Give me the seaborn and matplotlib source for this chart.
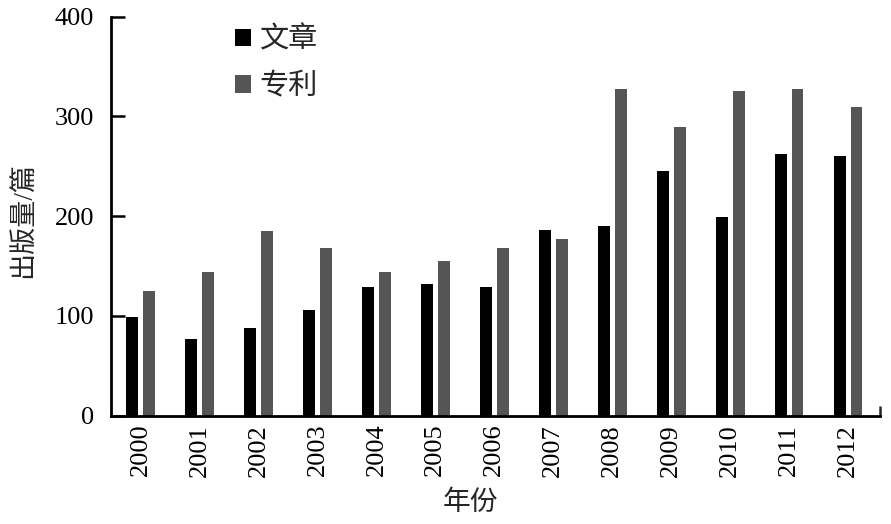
import numpy as np
import pandas as pd
import matplotlib
matplotlib.use("Agg")
import matplotlib.pyplot as plt
import seaborn as sns

years = ["2000", "2001", "2002", "2003", "2004", "2005", "2006",
         "2007", "2008", "2009", "2010", "2011", "2012"]
articles = [99, 77, 88, 106, 129, 132, 129, 186, 190, 245, 199, 262, 260]
patents = [125, 144, 185, 168, 144, 155, 168, 177, 327, 289, 325, 327, 309]
series_names = ["文章", "专利"]
series_colors = ["#000000", "#555555"]
y_ticks = [0, 100, 200, 300, 400]

df = pd.DataFrame({
    "年份": years * 2,
    "出版量": articles + patents,
    "类型": [series_names[0]] * len(years) + [series_names[1]] * len(years),
})

sns.set_theme(style="white")
plt.rcParams["font.family"] = ["Liberation Serif", "Noto Sans CJK SC", "DejaVu Sans"]

fig = plt.figure(figsize=(8.91, 5.24), dpi=100)
ax = fig.add_axes([111 / 891, 108.5 / 524, 769 / 891, 398.8 / 524])

sns.barplot(data=df, x="年份", y="出版量", hue="类型", order=years,
            hue_order=series_names, palette=series_colors, width=0.57,
            saturation=1, ax=ax, linewidth=0, edgecolor="none")

# narrow bars (leave a small gap between the pair)
bw = 0.2
for p in ax.patches:
    if p.get_height() > 0 or p.get_width() > 0:
        c = p.get_x() + p.get_width() / 2
        p.set_width(bw)
        p.set_x(c - bw / 2)

ax.set_xlim(-0.5, 12.54)
ax.set_ylim(0, 400)
ax.set_yticks(y_ticks)
ax.set_yticklabels([str(v) for v in y_ticks])

for s in ["top", "right"]:
    ax.spines[s].set_visible(False)
for s in ["left", "bottom"]:
    ax.spines[s].set_linewidth(2.0)
    ax.spines[s].set_color("black")

ax.tick_params(axis="y", direction="in", length=10, width=1.8, pad=12,
               labelsize=19, left=True, colors="black")
ax.tick_params(axis="x", which="major", length=0, pad=6, labelsize=19,
               labelrotation=90, colors="black")
ax.set_xticks([12.54], minor=True)
ax.tick_params(axis="x", which="minor", direction="in", length=7, width=1.8,
               bottom=True)

ax.set_ylabel("出版量/篇", fontsize=19.5, family=["Liberation Serif", "Noto Sans CJK SC"])
ax.yaxis.set_label_coords(-0.096, 0.489)
ax.set_xlabel("年份", fontsize=20, family=["Noto Sans CJK SC"])
ax.xaxis.set_label_coords(0.467, -0.18)

handles, labels = ax.get_legend_handles_labels()
leg = ax.legend(handles, labels, loc="upper left",
                bbox_to_anchor=((235 - 111) / 769, (415.5 - 25) / 398.8),
                frameon=False, borderpad=0, borderaxespad=0,
                handlelength=0.55, handleheight=0.55, handletextpad=0.3,
                labelspacing=0.55,
                prop={"family": ["Noto Sans CJK SC"], "size": 21})

fig.savefig("out.png", dpi=100)
